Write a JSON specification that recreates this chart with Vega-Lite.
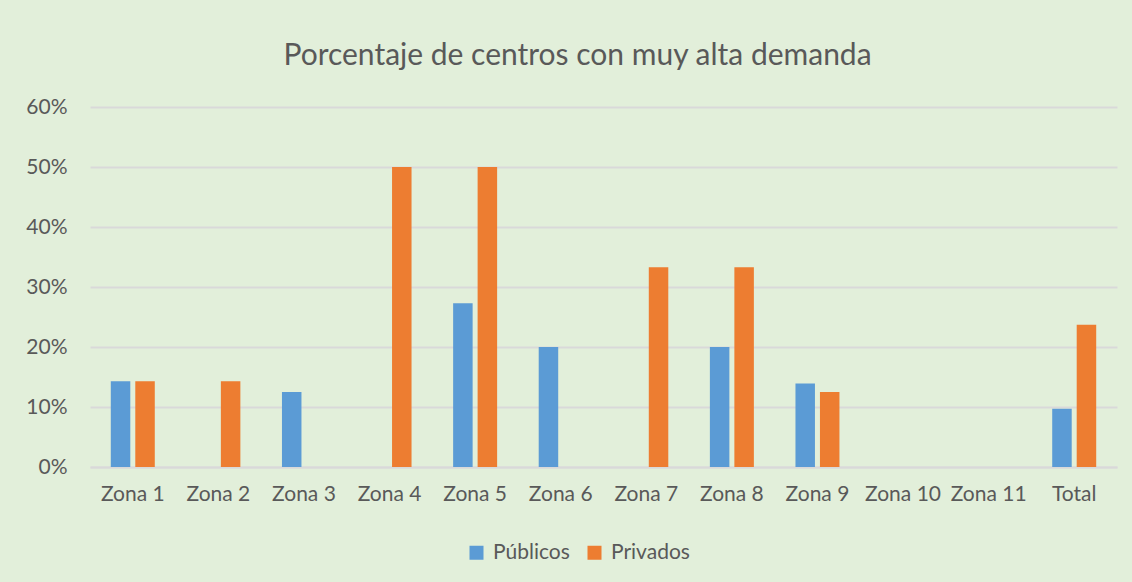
{
  "$schema": "https://vega.github.io/schema/vega-lite/v6.json",
  "autosize": {"type": "none"},
  "width": 1027,
  "height": 360,
  "padding": {"left": 90, "top": 107, "right": 15, "bottom": 115},
  "background": "#E2EFDA",
  "config": {
    "font": "Lato",
    "view": {"stroke": null},
    "axis": {"labelColor": "#595959", "labelFont": "Lato", "labelFontSize": 21, "ticks": false, "title": null}
  },
  "title": {
    "text": "Porcentaje de centros con muy alta demanda",
    "fontSize": 30,
    "fontWeight": "normal",
    "color": "#595959",
    "font": "Lato",
    "anchor": "middle",
    "dx": -26,
    "offset": 25
  },
  "data": {
    "values": [
      {"zona": "Zona 1", "tipo": "Públicos", "pct": 0.143},
      {"zona": "Zona 1", "tipo": "Privados", "pct": 0.143},
      {"zona": "Zona 2", "tipo": "Públicos", "pct": 0},
      {"zona": "Zona 2", "tipo": "Privados", "pct": 0.143},
      {"zona": "Zona 3", "tipo": "Públicos", "pct": 0.125},
      {"zona": "Zona 3", "tipo": "Privados", "pct": 0},
      {"zona": "Zona 4", "tipo": "Públicos", "pct": 0},
      {"zona": "Zona 4", "tipo": "Privados", "pct": 0.5},
      {"zona": "Zona 5", "tipo": "Públicos", "pct": 0.273},
      {"zona": "Zona 5", "tipo": "Privados", "pct": 0.5},
      {"zona": "Zona 6", "tipo": "Públicos", "pct": 0.2},
      {"zona": "Zona 6", "tipo": "Privados", "pct": 0},
      {"zona": "Zona 7", "tipo": "Públicos", "pct": 0},
      {"zona": "Zona 7", "tipo": "Privados", "pct": 0.333},
      {"zona": "Zona 8", "tipo": "Públicos", "pct": 0.2},
      {"zona": "Zona 8", "tipo": "Privados", "pct": 0.333},
      {"zona": "Zona 9", "tipo": "Públicos", "pct": 0.139},
      {"zona": "Zona 9", "tipo": "Privados", "pct": 0.125},
      {"zona": "Zona 10", "tipo": "Públicos", "pct": 0},
      {"zona": "Zona 10", "tipo": "Privados", "pct": 0},
      {"zona": "Zona 11", "tipo": "Públicos", "pct": 0},
      {"zona": "Zona 11", "tipo": "Privados", "pct": 0},
      {"zona": "Total", "tipo": "Públicos", "pct": 0.097},
      {"zona": "Total", "tipo": "Privados", "pct": 0.237}
    ]
  },
  "mark": {"type": "bar"},
  "encoding": {
    "x": {
      "field": "zona",
      "type": "nominal",
      "sort": null,
      "scale": {"paddingInner": 0, "paddingOuter": 0},
      "axis": {"labelAngle": 0, "labelPadding": 16, "domainColor": "#D9D9D9", "domainWidth": 2}
    },
    "xOffset": {
      "field": "tipo",
      "type": "nominal",
      "sort": ["Públicos", "Privados"],
      "scale": {"paddingInner": 0.204, "paddingOuter": 0.849}
    },
    "y": {
      "field": "pct",
      "type": "quantitative",
      "scale": {"domain": [0, 0.6]},
      "axis": {"format": ".0%", "values": [0, 0.1, 0.2, 0.3, 0.4, 0.5, 0.6], "labelOverlap": false, "domain": false, "gridColor": "#D9D9D9", "gridWidth": 2, "labelPadding": 23}
    },
    "color": {
      "field": "tipo",
      "type": "nominal",
      "sort": ["Públicos", "Privados"],
      "scale": {"domain": ["Públicos", "Privados"], "range": ["#5B9BD5", "#ED7D31"]},
      "legend": {
        "title": null,
        "orient": "none",
        "legendX": 376,
        "legendY": 435,
        "direction": "horizontal",
        "symbolType": "square",
        "symbolSize": 196,
        "symbolStrokeWidth": 0,
        "labelFontSize": 21,
        "labelColor": "#595959",
        "labelFont": "Lato",
        "columnPadding": 14,
        "labelOffset": 6
      }
    }
  }
}
